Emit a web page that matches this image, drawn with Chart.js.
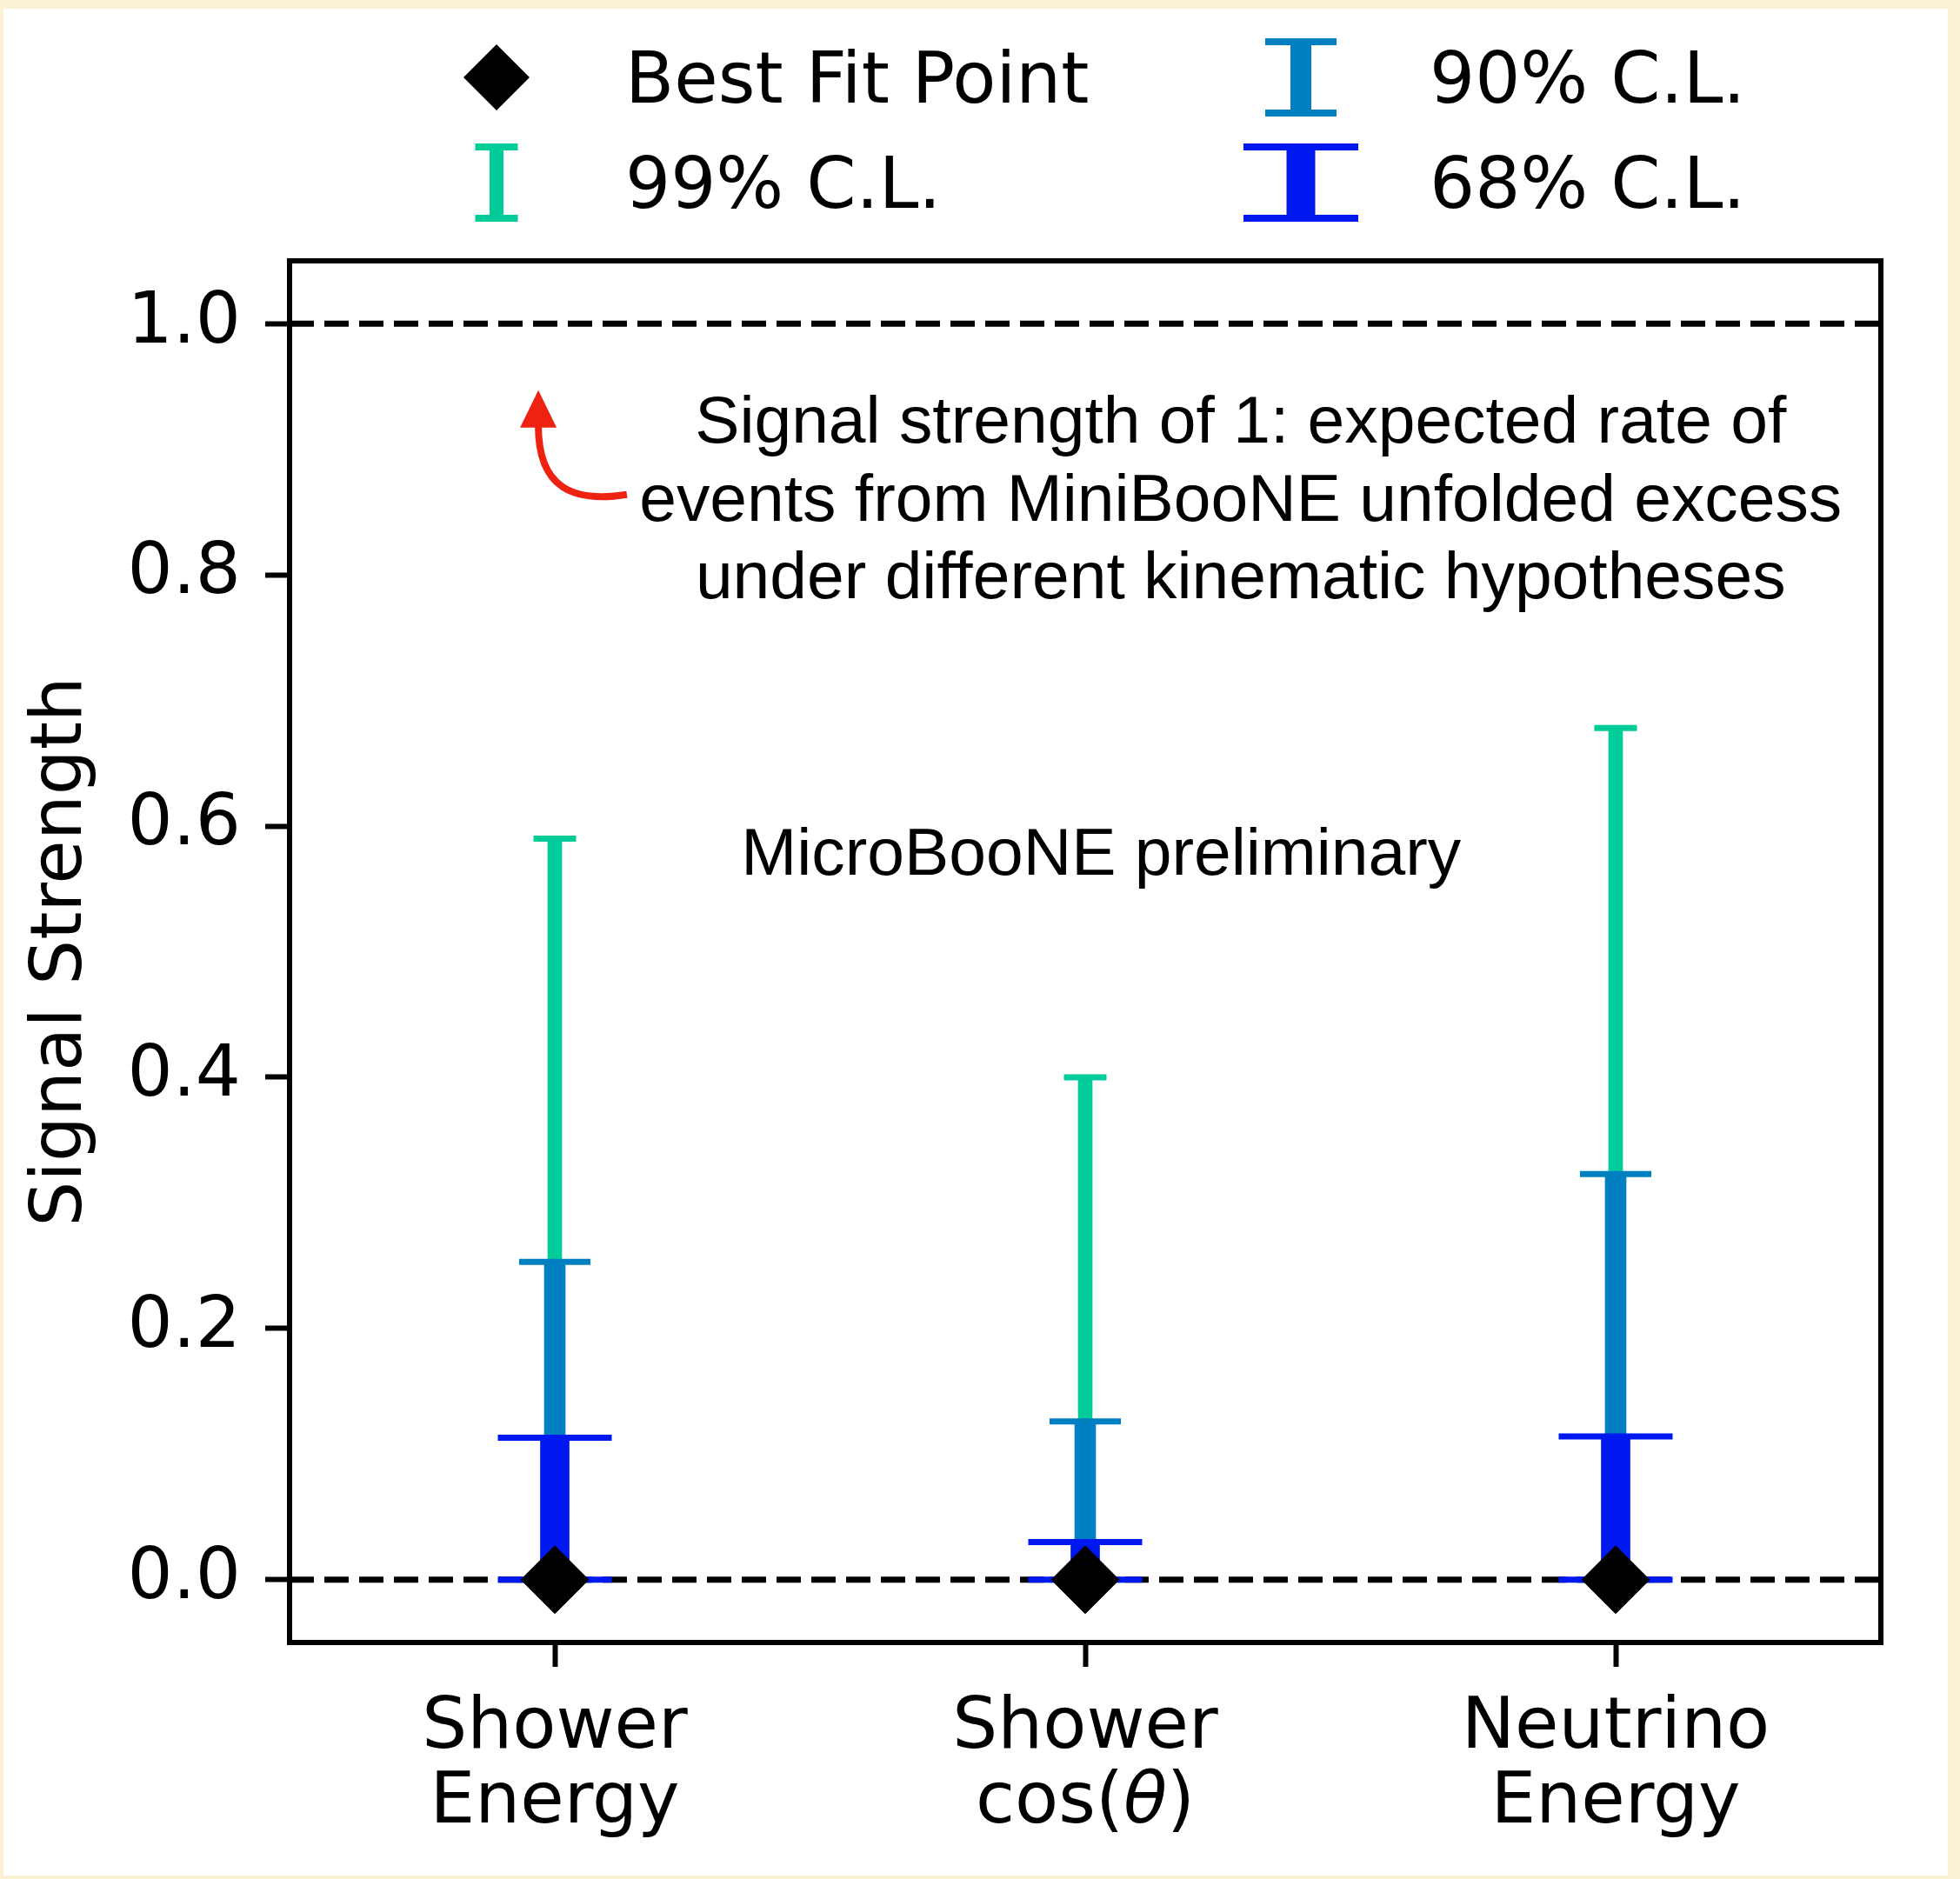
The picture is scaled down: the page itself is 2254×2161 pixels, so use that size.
<!DOCTYPE html>
<html>
<head>
<meta charset="utf-8">
<title>Signal Strength</title>
<script src="https://cdn.jsdelivr.net/npm/chart.js@4.4.1/dist/chart.umd.min.js"></script>
<style>
  html, body { margin: 0; padding: 0; background: #fbf2d6; }
  canvas { display: block; }
</style>
</head>
<body>
<canvas id="strengthChart" width="2254" height="2161"></canvas>
<script>
// categories (two-line labels) and fitted signal strengths
const categories = [['Shower', 'Energy'], ['Shower', 'cos(θ)'], ['Neutrino', 'Energy']];
const bestFit = [0, 0, 0];
const lowerEdge = [0, 0, 0];
const upper99 = [0.590, 0.400, 0.678];
const upper90 = [0.253, 0.126, 0.323];
const upper68 = [0.113, 0.030, 0.114];
const yTicks = [0.0, 0.2, 0.4, 0.6, 0.8, 1.0];
const refLines = [0, 1];

const noteLines = [
    'Signal strength of 1: expected rate of',
    'events from MiniBooNE unfolded excess',
    'under different kinematic hypotheses'
];
const notePos = { x: 1.293, y: 0.858 };
const stampText = 'MicroBooNE preliminary';
const stampPos = { x: 1.03, y: 0.576 };
const arrowTip = { x: -0.031, y: 0.947 };
const arrowTail = { x: 0.136, y: 0.864 };

const COL99 = '#00cc99';
const COL90 = '#0080c0';
const COL68 = '#0018f0';
const TICK_FONT = '"DejaVu Sans", sans-serif';
const NOTE_FONT = '"Liberation Sans", Arial, Helvetica, sans-serif';

// one confidence band = a floating bar plus two caps
function band(label, upper, color, barW, capR, order) {
    return [
        {
            type: 'bar',
            label: label,
            data: upper.map((u, i) => [lowerEdge[i], u]),
            backgroundColor: color,
            borderWidth: 0,
            barThickness: barW,
            grouped: false,
            order: order + 1
        },
        {
            type: 'line',
            label: label + ' caps',
            data: upper,
            showLine: false,
            pointStyle: 'line',
            pointRadius: capR,
            pointHoverRadius: capR,
            pointBorderWidth: 7,
            pointHoverBorderWidth: 7,
            pointBorderColor: color,
            order: order
        },
        {
            type: 'line',
            label: label + ' low caps',
            data: lowerEdge,
            showLine: false,
            pointStyle: 'line',
            pointRadius: capR,
            pointHoverRadius: capR,
            pointBorderWidth: 7,
            pointHoverBorderWidth: 7,
            pointBorderColor: color,
            order: order
        }
    ];
}

const legendItems = [
    { text: 'Best Fit Point', kind: 'diamond', x: 571, y: 89 },
    { text: '90% C.L.', kind: { color: COL90, barW: 24, capW: 82 }, x: 1496, y: 89 },
    { text: '99% C.L.', kind: { color: COL99, barW: 16, capW: 49 }, x: 571, y: 210 },
    { text: '68% C.L.', kind: { color: COL68, barW: 33, capW: 132 }, x: 1496, y: 210 }
];

function diamond(ctx, x, y, r) {
    ctx.beginPath();
    ctx.moveTo(x - r, y);
    ctx.lineTo(x, y - r);
    ctx.lineTo(x + r, y);
    ctx.lineTo(x, y + r);
    ctx.closePath();
    ctx.fill();
}

const decorPlugin = {
    id: 'decor',
    beforeDraw(chart) {
        const ctx = chart.ctx;
        ctx.save();
        ctx.fillStyle = '#fbf2d6';
        ctx.fillRect(0, 0, chart.width, chart.height);
        ctx.fillStyle = '#ffffff';
        ctx.fillRect(4, 10, 2236, 2147);
        ctx.restore();
    },
    beforeDatasetsDraw(chart) {
        const { ctx, chartArea: a, scales: { y } } = chart;
        ctx.save();
        ctx.strokeStyle = '#000';
        ctx.lineWidth = 7;
        ctx.setLineDash([28, 12]);
        refLines.forEach(v => {
            const py = y.getPixelForValue(v);
            ctx.beginPath();
            ctx.moveTo(a.left, py);
            ctx.lineTo(a.right, py);
            ctx.stroke();
        });
        ctx.restore();
    },
    afterDraw(chart) {
        const { ctx, chartArea: a, scales: { x, y } } = chart;
        ctx.save();

        // axes frame
        ctx.strokeStyle = '#000';
        ctx.lineWidth = 6;
        ctx.strokeRect(a.left, a.top, a.right - a.left, a.bottom - a.top);

        // category labels, theta in oblique
        ctx.fillStyle = '#000';
        ctx.textBaseline = 'middle';
        categories.forEach((lines, i) => {
            const cx = x.getPixelForValue(i);
            lines.forEach((line, j) => {
                const ly = a.bottom + 100 + j * 86;
                const parts = line.split(/(θ)/).filter(s => s.length);
                const fonts = parts.map(p => (p === 'θ' ? 'oblique ' : '') + '82px ' + TICK_FONT);
                let total = 0;
                const widths = parts.map((p, k) => { ctx.font = fonts[k]; const w = ctx.measureText(p).width; total += w; return w; });
                let px = cx - total / 2;
                ctx.textAlign = 'left';
                parts.forEach((p, k) => {
                    ctx.font = fonts[k];
                    ctx.fillText(p, px, ly);
                    px += widths[k];
                });
            });
        });

        // annotations inside the axes
        ctx.font = '76.8px ' + NOTE_FONT;
        ctx.textAlign = 'center';
        ctx.fillText(stampText, x.getPixelForValue(stampPos.x), y.getPixelForValue(stampPos.y));
        const nx = x.getPixelForValue(notePos.x);
        const ny = y.getPixelForValue(notePos.y);
        noteLines.forEach((line, j) => {
            ctx.fillText(line, nx, ny + (j - 1) * 89.5);
        });

        // curved red arrow pointing at the unit line
        const tx = x.getPixelForValue(arrowTip.x), ty = y.getPixelForValue(arrowTip.y);
        const sx = x.getPixelForValue(arrowTail.x), sy = y.getPixelForValue(arrowTail.y);
        const baseY = ty + 43;
        ctx.strokeStyle = '#ee2211';
        ctx.fillStyle = '#ee2211';
        ctx.lineWidth = 8;
        ctx.beginPath();
        ctx.moveTo(sx, sy);
        ctx.bezierCurveTo(sx - 63, sy + 10, tx, sy - 8, tx, baseY - 2);
        ctx.stroke();
        ctx.beginPath();
        ctx.moveTo(tx, ty);
        ctx.lineTo(tx - 21, baseY);
        ctx.lineTo(tx + 21, baseY);
        ctx.closePath();
        ctx.fill();

        // legend above the axes
        ctx.font = '82px ' + TICK_FONT;
        ctx.textAlign = 'left';
        legendItems.forEach(it => {
            ctx.fillStyle = '#000';
            ctx.fillText(it.text, it.x + 148, it.y + 8);
            if (it.kind === 'diamond') {
                diamond(ctx, it.x, it.y, 38);
            } else {
                const k = it.kind;
                ctx.fillStyle = k.color;
                ctx.fillRect(it.x - k.barW / 2, it.y - 41, k.barW, 82);
                ctx.fillRect(it.x - k.capW / 2, it.y - 45, k.capW, 8);
                ctx.fillRect(it.x - k.capW / 2, it.y + 37, k.capW, 8);
            }
        });
        ctx.restore();
    }
};

const datasets = [
    {
        type: 'line',
        label: 'Best Fit Point',
        data: bestFit,
        showLine: false,
        pointStyle: 'rectRot',
        pointRadius: 39,
        pointHoverRadius: 39,
        pointBackgroundColor: '#000',
        pointBorderColor: '#000',
        pointBorderWidth: 1,
        order: 0
    },
    ...band('68% C.L.', upper68, COL68, 33, 65.5, 1),
    ...band('90% C.L.', upper90, COL90, 24, 41, 3),
    ...band('99% C.L.', upper99, COL99, 16, 24.5, 5)
];

new Chart(document.getElementById('strengthChart'), {
    type: 'bar',
    data: {
        labels: categories,
        datasets: datasets
    },
    options: {
        responsive: false,
        animation: false,
        devicePixelRatio: 1,
        layout: { padding: { top: 300, right: 91, left: 0, bottom: 0 } },
        plugins: {
            legend: { display: false },
            tooltip: { enabled: false }
        },
        scales: {
            x: {
                type: 'category',
                offset: true,
                grid: { offset: false, drawOnChartArea: false, drawTicks: true, tickLength: 28, tickWidth: 6, tickColor: '#000' },
                border: { display: false },
                ticks: { display: false },
                afterFit: s => { s.height = 272; }
            },
            y: {
                min: -0.05,
                max: 1.05,
                afterBuildTicks: s => { s.ticks = yTicks.map(v => ({ value: v })); },
                grid: { drawOnChartArea: false, drawTicks: true, tickLength: 28, tickWidth: 6, tickColor: '#000' },
                border: { display: false },
                ticks: {
                    color: '#000',
                    padding: 28,
                    font: { family: TICK_FONT, size: 82 },
                    callback: v => Number(v).toFixed(1)
                },
                title: {
                    display: true,
                    text: 'Signal Strength',
                    color: '#000',
                    font: { family: TICK_FONT, size: 82, lineHeight: 1.2 },
                    padding: { top: 23, bottom: 0 }
                },
                afterFit: s => { s.width = 333; }
            }
        }
    },
    plugins: [decorPlugin]
});
</script>
</body>
</html>
